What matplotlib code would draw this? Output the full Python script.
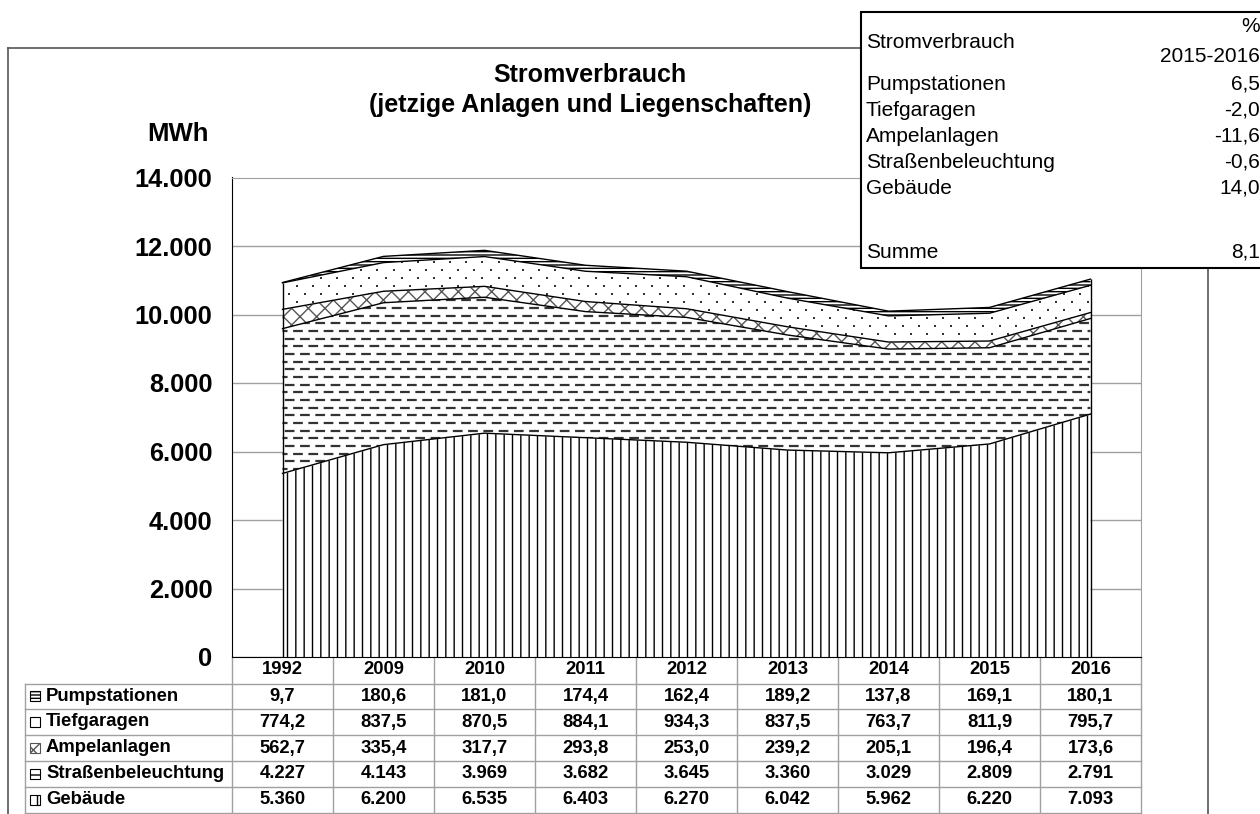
import numpy as np
import matplotlib
matplotlib.use("Agg")
import matplotlib.pyplot as plt
import matplotlib.transforms as mtransforms
from matplotlib.patches import Rectangle
from matplotlib.lines import Line2D
from matplotlib.ticker import FuncFormatter

# data (MWh)
years = ["1992", "2009", "2010", "2011", "2012", "2013", "2014", "2015", "2016"]
gebaeude = [5360, 6200, 6535, 6403, 6270, 6042, 5962, 6220, 7093]
strassen = [4227, 4143, 3969, 3682, 3645, 3360, 3029, 2809, 2791]
ampel = [562.7, 335.4, 317.7, 293.8, 253.0, 239.2, 205.1, 196.4, 173.6]
tief = [774.2, 837.5, 870.5, 884.1, 934.3, 837.5, 763.7, 811.9, 795.7]
pump = [9.7, 180.6, 181.0, 174.4, 162.4, 189.2, 137.8, 169.1, 180.1]

# table rows, top to bottom
row_names = ["Pumpstationen", "Tiefgaragen", "Ampelanlagen", "Straßenbeleuchtung", "Gebäude"]
row_data = [pump, tief, ampel, strassen, gebaeude]

plt.rcParams['font.family'] = ['Liberation Sans', 'DejaVu Sans']
plt.rcParams['hatch.linewidth'] = 1.0
plt.rcParams['lines.scale_dashes'] = False

W, H = 1260, 814


def fx(x):
    return x / W


def fy(y):
    return 1 - y / H


def fmt_num(v):
    if v >= 1000:
        return f"{v:,.0f}".replace(",", ".")
    return f"{v:.1f}".replace(".", ",")


fig = plt.figure(figsize=(12.6, 8.14), dpi=100)

# outer chart frame
frame_col = "#555555"
fig.add_artist(Line2D([fx(8), fx(8)], [fy(48), fy(816)], color=frame_col, lw=1.2))
fig.add_artist(Line2D([fx(8), fx(1208)], [fy(48), fy(48)], color=frame_col, lw=1.2))
fig.add_artist(Line2D([fx(1208), fx(1208)], [fy(48), fy(816)], color=frame_col, lw=1.2))

ax = fig.add_axes([fx(232), fy(657), (1141 - 232) / W, (657 - 177.5) / H])
x = np.arange(len(years))

b0 = np.zeros(len(years))
b1 = b0 + np.array(gebaeude)
b2 = b1 + np.array(strassen)
b3 = b2 + np.array(ampel)
b4 = b3 + np.array(tief)
b5 = b4 + np.array(pump)

ax.fill_between(x, b0, b1, facecolor="white", edgecolor="black", hatch="||", lw=0, zorder=2)
poly_s = ax.fill_between(x, b1, b2, facecolor="white", edgecolor="white", lw=0, zorder=2)
ax.fill_between(x, b2, b3, facecolor="white", edgecolor="#555555", hatch="xx", lw=0, zorder=2)
poly_t = ax.fill_between(x, b3, b4, facecolor="white", edgecolor="white", lw=0, zorder=2)
ax.fill_between(x, b4, b5, facecolor="white", edgecolor="black", hatch="-----", lw=0, zorder=2)

# dashed horizontal texture for Straßenbeleuchtung
clip_s = poly_s.get_paths()[0]
for i, yy in enumerate(np.arange(110, 14000, 224)):
    ln = ax.hlines(yy, -0.5, 8.5, color="#333333", lw=1.6,
                   linestyle=(0 if i % 2 == 0 else 6, (7, 4)), zorder=3)
    ln.set_clip_path(clip_s, ax.transData)

# small dot texture for Tiefgaragen
clip_t = poly_t.get_paths()[0]
gx, gy = np.meshgrid(np.arange(-0.5, 8.6, 0.16), np.arange(60, 14000, 234))
gx = gx + (np.arange(gx.shape[0]) % 2)[:, None] * 0.08
dots = ax.scatter(gx.ravel(), gy.ravel(), s=2.2, color="#333333", marker="s",
                  linewidths=0, zorder=3)
dots.set_clip_path(clip_t, ax.transData)

for top in [b1, b2, b3, b4, b5]:
    ax.plot(x, top, color="black", lw=1, zorder=4)
ax.vlines([x[0], x[-1]], 0, [b5[0], b5[-1]], color="black", lw=1, zorder=4)

ax.set_xlim(-0.5, len(years) - 0.5)
ax.set_ylim(0, 14000)
ax.set_yticks(np.arange(0, 14001, 2000))
ax.yaxis.set_major_formatter(FuncFormatter(lambda v, p: f"{v:,.0f}".replace(",", ".")))
ax.tick_params(axis="y", length=0, pad=14, labelsize=18.3)
for lab in ax.get_yticklabels():
    lab.set_fontweight("bold")
ax.set_xticks([])
ax.grid(axis="y", color="#a0a0a0", lw=1, zorder=0)
ax.set_axisbelow(True)
ax.spines["left"].set_color("black")
ax.spines["bottom"].set_color("black")
ax.spines["top"].set_color("#a0a0a0")
ax.spines["right"].set_color("#a0a0a0")

fig.text(fx(590), fy(75), "Stromverbrauch", ha="center", va="center",
         fontsize=18, fontweight="bold")
fig.text(fx(590), fy(105), "(jetzige Anlagen und Liegenschaften)", ha="center",
         va="center", fontsize=18, fontweight="bold")
fig.text(fx(178), fy(134), "MWh", ha="center", va="center", fontsize=18.5, fontweight="bold")

# data table under the axis
trans = mtransforms.blended_transform_factory(ax.transData, fig.transFigure)
grid_col = "#a0a0a0"
row_edges = [657, 683.5, 709, 735, 761, 787, 813]
for i, yr in enumerate(years):
    ax.text(i, fy(670), yr, transform=trans, ha="center", va="center",
            fontsize=13.3, fontweight="bold", clip_on=False)
for xb in np.arange(-0.5, len(years)):
    ax.add_artist(Line2D([xb, xb], [fy(657), fy(813)], transform=trans,
                         color=grid_col, lw=1, clip_on=False))
for ye in row_edges[1:]:
    fig.add_artist(Line2D([fx(25), fx(1141)], [fy(ye), fy(ye)], color=grid_col, lw=1))
fig.add_artist(Line2D([fx(25), fx(25)], [fy(683.5), fy(813)], color=grid_col, lw=1))

key_styles = [("-----", "black"), ("", "black"), ("xx", "#555555"), ("-", "black"), ("||", "black")]
for r, (name, vals) in enumerate(zip(row_names, row_data)):
    yc = (row_edges[r + 1] + row_edges[r + 2]) / 2
    hatch, col = key_styles[r]
    fig.add_artist(Rectangle((fx(30), fy(yc + 5)), 10 / W, 10 / H, facecolor="white",
                             edgecolor=col, hatch=hatch, lw=0.8))
    fig.text(fx(46), fy(yc), name, ha="left", va="center", fontsize=13.3, fontweight="bold")
    for i, v in enumerate(vals):
        ax.text(i, fy(yc), fmt_num(v), transform=trans, ha="center", va="center",
                fontsize=13.3, fontweight="bold", clip_on=False)

# change box 2015-2016
fig.add_artist(Rectangle((fx(861), fy(268)), (1265 - 861) / W, (268 - 12) / H,
                         facecolor="white", edgecolor="black", lw=1.5, zorder=5))
box_kw = dict(fontsize=15, va="center", zorder=6)
fig.text(fx(866), fy(42), "Stromverbrauch", ha="left", **box_kw)
fig.text(fx(1260), fy(27), "%", ha="right", **box_kw)
fig.text(fx(1260), fy(57), "2015-2016", ha="right", **box_kw)
box_y = [84, 110, 136, 162, 188]
for r, (name, vals) in enumerate(zip(row_names, row_data)):
    pct = (vals[-1] / vals[-2] - 1) * 100
    fig.text(fx(866), fy(box_y[r]), name, ha="left", **box_kw)
    fig.text(fx(1260), fy(box_y[r]), f"{pct:.1f}".replace(".", ","), ha="right", **box_kw)
sum_pct = (b5[-1] / b5[-2] - 1) * 100
fig.text(fx(866), fy(252), "Summe", ha="left", **box_kw)
fig.text(fx(1260), fy(252), f"{sum_pct:.1f}".replace(".", ","), ha="right", **box_kw)

fig.savefig("out.png", dpi=100)
